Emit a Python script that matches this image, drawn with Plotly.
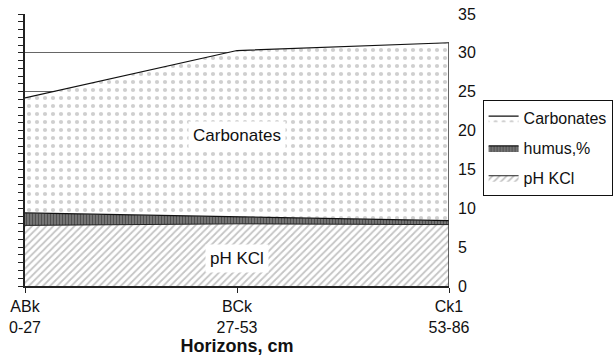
import plotly.graph_objects as go

# Soil horizons and depth ranges (cm)
horizons = ["ABk", "BCk", "Ck1"]
depths = ["0-27", "27-53", "53-86"]
labels = [f"{h}<br>{d}" for h, d in zip(horizons, depths)]

# Stacked series values per horizon
ph_kcl = [7.8, 8.0, 7.9]
humus = [1.6, 0.9, 0.5]
carbonates = [14.8, 21.4, 22.9]

FONT = "Liberation Sans, Arial, sans-serif"

fig = go.Figure()

fig.add_trace(go.Scatter(
    x=labels, y=ph_kcl, name="pH KCl", stackgroup="one",
    legendgroup="ph", legendrank=3,
    mode="lines", line=dict(color="#222", width=1),
    fillpattern=dict(shape="/", fgcolor="#8a8a8a", bgcolor="white",
                     size=5, solidity=0.35),
))
fig.add_trace(go.Scatter(
    x=labels, y=humus, name="humus,%", stackgroup="one",
    legendgroup="humus", legendrank=2,
    mode="lines", line=dict(color="#111", width=1.2),
    fillpattern=dict(shape="|", fgcolor="#2a2a2a", bgcolor="#777",
                     size=3, solidity=0.4),
))
fig.add_trace(go.Scatter(
    x=labels, y=carbonates, name="Carbonates", stackgroup="one",
    legendgroup="carb", legendrank=1,
    mode="lines", line=dict(color="#111", width=1.2),
    fillpattern=dict(shape=".", fgcolor="#a0a0a0", bgcolor="white",
                     size=8, solidity=0.22),
))

# Closing edge of the stacked area at the last horizon
total_last = ph_kcl[-1] + humus[-1] + carbonates[-1]
fig.add_trace(go.Scatter(
    x=[labels[-1], labels[-1]], y=[0, total_last], yaxis="y2",
    mode="lines", line=dict(color="#333", width=1.5),
    showlegend=False, hoverinfo="skip",
))

fig.add_annotation(x=labels[1], y=19.4, text="Carbonates", showarrow=False,
                   bgcolor="white", font=dict(family=FONT, size=17, color="#111"),
                   borderpad=4)
fig.add_annotation(x=labels[1], y=3.6, text="pH KCl", showarrow=False,
                   bgcolor="white", font=dict(family=FONT, size=17, color="#111"),
                   borderpad=4)

fig.update_layout(
    width=614, height=358,
    margin=dict(l=25, r=165, t=14, b=72, autoexpand=False),
    paper_bgcolor="white", plot_bgcolor="white",
    font=dict(family=FONT, size=16, color="#111"),
    showlegend=True,
    legend=dict(
        xref="container", yref="container",
        x=0.786, y=0.72, xanchor="left", yanchor="top",
        traceorder="grouped", tracegroupgap=6,
        bordercolor="#111", borderwidth=1,
        font=dict(family=FONT, size=16, color="#111"),
        itemwidth=30, bgcolor="white",
    ),
    xaxis=dict(
        type="category", range=[0, 2], automargin=False,
        showline=True, linecolor="#222", linewidth=2,
        ticks="outside", ticklen=5, tickcolor="#222",
        showgrid=False, zeroline=False,
        tickfont=dict(family=FONT, size=16, color="#111"),
        title=dict(text="<b>Horizons, cm</b>", standoff=2,
                   font=dict(family=FONT, size=18, color="#111")),
    ),
    yaxis=dict(
        range=[0, 35], tickvals=[0, 5, 10, 15, 20, 25, 30],
        showticklabels=False, automargin=False,
        showline=True, linecolor="#222", linewidth=2,
        ticks="outside", ticklen=5, tickcolor="#222",
        showgrid=True, gridcolor="#666", gridwidth=1, zeroline=False,
        minor=dict(dtick=1, tick0=0, ticks="outside", ticklen=5,
                   tickcolor="#222", showgrid=False),
    ),
    yaxis2=dict(
        range=[0, 35], dtick=5, overlaying="y", side="right",
        automargin=False,
        showgrid=False, showline=False, zeroline=False, ticks="",
        ticklabelstandoff=8,
        tickfont=dict(family=FONT, size=16, color="#111"),
    ),
)

fig.write_html("out.html")
